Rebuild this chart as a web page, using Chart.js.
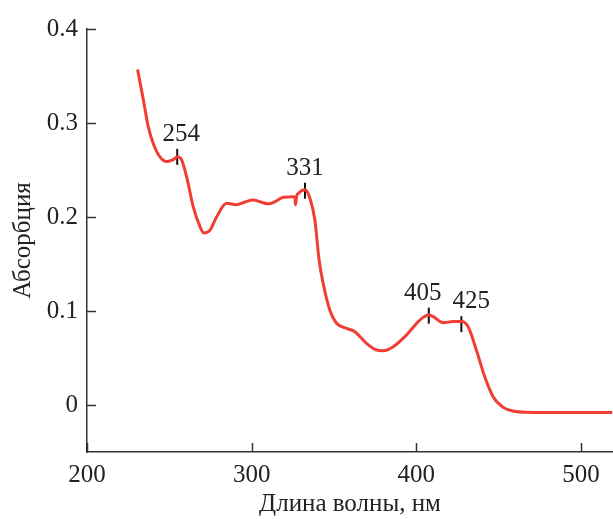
<!DOCTYPE html>
<html>
<head>
<meta charset="utf-8">
<script src="https://cdn.jsdelivr.net/npm/chart.js@4/dist/chart.umd.min.js"></script>
<style>
  html, body { margin: 0; padding: 0; background: #fff; }
  #wrap { width: 613px; height: 519px; }
</style>
</head>
<body>
<div id="wrap"><canvas id="canvas" width="613" height="519"></canvas></div>
<script>
// spectrum
var waveNm = [230.7, 234.2, 237.2, 240.3, 244.3, 248.4, 252.4, 254.8, 257.4, 260.5,
              264.5, 268.6, 271, 274.7, 278.7, 284.8, 290.8, 296, 301, 305.5,
              310.1, 315, 319.2, 325.3, 326.2, 326.7, 327.3, 328.3, 332.4, 335.4,
              338.4, 341, 343.5, 347.5, 351.6, 357.6, 362.7, 369.8, 375.9, 379.9,
              386, 394.1, 402.2, 407.6, 410.3, 416.3, 422.4, 427.4, 431.5, 436.5,
              441.6, 446.7, 452.8, 458.8, 466.9, 480, 500, 519];
var absorb = [0.357, 0.325, 0.296, 0.278, 0.264, 0.259, 0.261, 0.264, 0.261, 0.243,
              0.211, 0.190, 0.183, 0.186, 0.200, 0.2145, 0.213, 0.216, 0.218, 0.216,
              0.214, 0.217, 0.221, 0.2215, 0.221, 0.213, 0.222, 0.225, 0.229, 0.22,
              0.197, 0.154, 0.129, 0.101, 0.087, 0.0815, 0.078, 0.0656, 0.0585, 0.0578,
              0.062, 0.0745, 0.0904, 0.0957, 0.094, 0.0876, 0.0887, 0.0887, 0.0833, 0.0585,
              0.030, 0.0088, -0.0025, -0.0064, -0.0078, -0.008, -0.008, -0.008];

// peak marks
var peakLabels = ['254', '331', '405', '425'];
var peakX = [254.8, 332.4, 407.6, 427.4];
var peakY = [0.264, 0.228, 0.095, 0.086];

var xTicks = [200, 300, 400, 500];
var yTicks = [0, 0.1, 0.2, 0.3, 0.4];

var FONT = "'Liberation Serif', 'Times New Roman', serif";
var AXIS = '#333';

var curve = waveNm.map(function(x, i) { return {x: x, y: absorb[i]}; });
var peaks = peakX.map(function(x, i) { return {x: x, y: peakY[i]}; });

// inward ticks + peak numbers
var extras = {
  id: 'extras',
  afterDraw: function(chart) {
    var ctx = chart.ctx;
    var xs = chart.scales.x, ys = chart.scales.y;
    var a = chart.chartArea;
    ctx.save();
    ctx.strokeStyle = AXIS;
    ctx.lineWidth = 1.5;
    xTicks.forEach(function(v) {
      var px = Math.round(xs.getPixelForValue(v)) + 0.5;
      ctx.beginPath(); ctx.moveTo(px, a.bottom); ctx.lineTo(px, a.bottom - 9); ctx.stroke();
    });
    yTicks.forEach(function(v) {
      var py = Math.round(ys.getPixelForValue(v)) + 0.5;
      ctx.beginPath(); ctx.moveTo(a.left, py); ctx.lineTo(a.left + 9, py); ctx.stroke();
    });
    // numbers over peaks
    var dx = [4, 0, -6, 10];
    ctx.fillStyle = '#222';
    ctx.font = '25px ' + FONT;
    ctx.textAlign = 'center';
    ctx.textBaseline = 'alphabetic';
    peakLabels.forEach(function(t, i) {
      var px = xs.getPixelForValue(peakX[i]);
      var py = ys.getPixelForValue(peakY[i]);
      ctx.fillText(t, px + dx[i], py - 16);
    });
    ctx.restore();
  }
};

var config = {
  type: 'scatter',
  data: {
    datasets: [
      {
        data: curve,
        showLine: true,
        borderColor: 'rgb(240,62,52)',
        borderWidth: 3,
        pointRadius: 0,
        cubicInterpolationMode: 'monotone'
      },
      {
        data: peaks,
        showLine: false,
        pointStyle: 'line',
        rotation: 90,
        radius: 8,
        borderColor: '#111',
        borderWidth: 2
      }
    ]
  },
  options: {
    responsive: false,
    animation: false,
    devicePixelRatio: 1,
    layout: { autoPadding: false, padding: { top: 29, right: 0, left: 0, bottom: 0 } },
    plugins: { legend: { display: false }, tooltip: { enabled: false } },
    scales: {
      x: {
        type: 'linear',
        min: 200, max: 519.5,
        afterBuildTicks: function(s) { s.ticks = xTicks.map(function(v) { return {value: v}; }); },
        afterFit: function(s) { s.height = 67; s.paddingRight = 0; s.paddingLeft = 0; },
        grid: { drawOnChartArea: false, drawTicks: false },
        border: { color: AXIS, width: 1.5 },
        ticks: { color: '#222', font: { family: FONT, size: 25 }, padding: 8, maxRotation: 0 },
        title: { display: true, text: 'Длина волны, нм', color: '#222',
                 font: { family: FONT, size: 25 }, padding: { top: 0, bottom: 0 } }
      },
      y: {
        min: -0.05, max: 0.4,
        afterBuildTicks: function(s) { s.ticks = yTicks.map(function(v) { return {value: v}; }); },
        afterFit: function(s) { s.width = 87; s.paddingTop = 0; s.paddingBottom = 0; },
        grid: { drawOnChartArea: false, drawTicks: false },
        border: { color: AXIS, width: 1.5 },
        ticks: {
          color: '#222', font: { family: FONT, size: 25 }, padding: 9,
          callback: function(v) { return v === 0 ? '0' : v.toFixed(1); }
        },
        title: { display: true, text: 'Абсорбция', color: '#222',
                 font: { family: FONT, size: 25 }, padding: { top: 8, bottom: 0 } }
      }
    }
  },
  plugins: [extras]
};

var chart = new Chart(document.getElementById('canvas').getContext('2d'), config);
</script>
</body>
</html>
